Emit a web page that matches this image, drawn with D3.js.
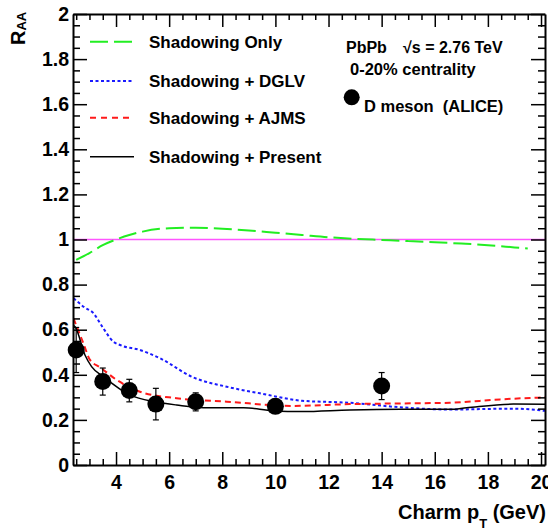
<!DOCTYPE html>
<meta charset="utf-8">
<style>
  body { margin: 0; background: white; }
  svg { display: block; font-family: "Liberation Sans", Arial, sans-serif; font-weight: bold; }
  .axis path, .axis line { stroke: black; }
  .axis path { stroke-width: 2; }
  .axis line { stroke-width: 1.5; }
  .axis text { font-family: "Liberation Sans", Arial, sans-serif; font-weight: bold; font-size: 19.5px; fill: black; }
</style>
<body>
<div id="chart"></div>
<script src="https://d3js.org/d3.v7.min.js"></script>
<script>

// tick values
const xMajor = [4, 6, 8, 10, 12, 14, 16, 18, 20];
const xMinor = [2.5, 3, 3.5, 4.5, 5, 5.5, 6.5, 7, 7.5, 8.5, 9, 9.5, 10.5, 11, 11.5, 12.5, 13, 13.5,
                14.5, 15, 15.5, 16.5, 17, 17.5, 18.5, 19, 19.5];
const yMajor = [0, 0.2, 0.4, 0.6, 0.8, 1, 1.2, 1.4, 1.6, 1.8, 2];
const yMinor = d3.range(0.05, 2, 0.05).filter(v => Math.abs(v * 5 - Math.round(v * 5)) > 1e-6);

// D meson (ALICE) points
const dPt   = [2.5, 3.5, 4.5, 5.5, 7, 10, 14];
const dRaa  = [0.51, 0.37, 0.33, 0.27, 0.28, 0.26, 0.35];
const dErr  = [0.10, 0.06, 0.05, 0.07, 0.04, 0.015, 0.06];

// Shadowing only
const shPt  = [2.5, 3, 3.5, 4, 4.5, 5, 6, 7, 8, 9, 10, 11, 12, 13, 14, 15, 16, 17, 18, 19, 19.5];
const shRaa = [0.91, 0.94, 0.975, 1.0, 1.02, 1.035, 1.05, 1.052, 1.048, 1.04, 1.03, 1.02, 1.01, 1.003,
               0.998, 0.993, 0.988, 0.982, 0.975, 0.965, 0.96];

// Shadowing + DGLV
const dglvPt  = [2.4, 2.8, 3.15, 3.5, 3.9, 4.15, 4.9, 5.66, 6.9, 8.17, 9.42, 11.0, 12.8, 14.7, 16.6, 18.96, 20.15];
const dglvRaa = [0.74, 0.70, 0.673, 0.61, 0.547, 0.532, 0.51, 0.473, 0.389, 0.347, 0.318, 0.285, 0.276,
                 0.256, 0.246, 0.25, 0.24];

// Shadowing + AJMS
const ajmsPt  = [2.4, 2.77, 3.02, 3.4, 4.03, 4.9, 6.28, 8.17, 10.67, 12.8, 14.7, 16.57, 18.46, 20.15];
const ajmsRaa = [0.65, 0.54, 0.466, 0.433, 0.377, 0.325, 0.296, 0.281, 0.262, 0.27, 0.273, 0.276, 0.291, 0.30];

// Shadowing + Present
const presPt  = [2.4, 2.46, 2.83, 3.08, 3.52, 4.53, 5.5, 6.28, 7.29, 8.8, 9.92, 11.0, 12.8, 14.7, 16.57, 17.2, 18.96, 20.15];
const presRaa = [0.62, 0.613, 0.488, 0.436, 0.392, 0.31, 0.28, 0.266, 0.254, 0.254, 0.24, 0.237, 0.244,
                 0.247, 0.247, 0.254, 0.27, 0.269];

const legendNames = ["Shadowing Only", "Shadowing + DGLV", "Shadowing + AJMS", "Shadowing + Present"];

const W = 548, H = 530;
const fLeft = 73, fRight = 545, fTop = 14, fBottom = 465;

const svg = d3.select("#chart").append("svg")
    .attr("width", W)
    .attr("height", H);

const x = d3.scaleLinear().domain([2.38, 20.15]).range([fLeft, fRight]);
const y = d3.scaleLinear().domain([0, 2]).range([fBottom, fTop]);

// clip for curves
svg.append("clipPath").attr("id", "frame")
  .append("rect")
    .attr("x", fLeft).attr("y", fTop)
    .attr("width", fRight - fLeft).attr("height", fBottom - fTop);

// reference line at 1
svg.append("line")
    .attr("x1", fLeft).attr("x2", fRight)
    .attr("y1", y(1)).attr("y2", y(1))
    .attr("stroke", "#ff55ff")
    .attr("stroke-width", 1.6);

// curves
const series = [
  {pt: shPt,   raa: shRaa,   color: "#22ee22", dash: "18,6", w: 2},
  {pt: dglvPt, raa: dglvRaa, color: "#1a1aff", dash: "3,2.5", w: 2},
  {pt: ajmsPt, raa: ajmsRaa, color: "#ff1a1a", dash: "6,4", w: 2},
  {pt: presPt, raa: presRaa, color: "black",   dash: null,  w: 1.5}
];

const line = d3.line()
    .x(d => x(d[0]))
    .y(d => y(d[1]))
    .curve(d3.curveMonotoneX);

svg.append("g").attr("clip-path", "url(#frame)")
  .selectAll("path")
  .data(series)
  .join("path")
    .attr("d", s => line(s.pt.map((p, i) => [p, s.raa[i]])))
    .attr("fill", "none")
    .attr("stroke", s => s.color)
    .attr("stroke-width", s => s.w)
    .attr("stroke-dasharray", s => s.dash);

// data points with error bars
const pts = dPt.map((p, i) => ({pt: p, raa: dRaa[i], err: dErr[i]}));
const pg = svg.append("g");
pg.selectAll("line.err")
  .data(pts)
  .join("line")
    .attr("class", "err")
    .attr("x1", d => x(d.pt)).attr("x2", d => x(d.pt))
    .attr("y1", d => y(d.raa - d.err)).attr("y2", d => y(d.raa + d.err))
    .attr("stroke", "black").attr("stroke-width", 1.2);
["lo", "hi"].forEach(k => {
  pg.selectAll("line.cap" + k)
    .data(pts)
    .join("line")
      .attr("class", "cap" + k)
      .attr("x1", d => x(d.pt) - 3).attr("x2", d => x(d.pt) + 3)
      .attr("y1", d => y(k == "lo" ? d.raa - d.err : d.raa + d.err))
      .attr("y2", d => y(k == "lo" ? d.raa - d.err : d.raa + d.err))
      .attr("stroke", "black").attr("stroke-width", 1.2);
});
pg.selectAll("circle")
  .data(pts)
  .join("circle")
    .attr("cx", d => x(d.pt))
    .attr("cy", d => y(d.raa))
    .attr("r", 8.5)
    .attr("fill", "black");

// axes (ticks inside the frame)
svg.append("g").attr("class", "axis")
    .attr("transform", `translate(0,${fBottom})`)
    .call(d3.axisBottom(x).tickValues(xMajor).tickSizeInner(-13).tickSizeOuter(0).tickPadding(10));
svg.append("g").attr("class", "axis")
    .attr("transform", `translate(0,${fBottom})`)
    .call(d3.axisBottom(x).tickValues(xMinor).tickSize(-6).tickFormat(""))
    .select(".domain").remove();
svg.append("g").attr("class", "axis")
    .attr("transform", `translate(0,${fTop})`)
    .call(d3.axisTop(x).tickValues(xMajor).tickSizeInner(-13).tickSizeOuter(0).tickFormat(""));
svg.append("g").attr("class", "axis")
    .attr("transform", `translate(0,${fTop})`)
    .call(d3.axisTop(x).tickValues(xMinor).tickSize(-6).tickFormat(""))
    .select(".domain").remove();

svg.append("g").attr("class", "axis")
    .attr("transform", `translate(${fLeft},0)`)
    .call(d3.axisLeft(y).tickValues(yMajor).tickSizeInner(-14).tickSizeOuter(0).tickPadding(4)
      .tickFormat(d => +d.toFixed(1)));
svg.append("g").attr("class", "axis")
    .attr("transform", `translate(${fLeft},0)`)
    .call(d3.axisLeft(y).tickValues(yMinor).tickSize(-7).tickFormat(""))
    .select(".domain").remove();
svg.append("g").attr("class", "axis")
    .attr("transform", `translate(${fRight},0)`)
    .call(d3.axisRight(y).tickValues(yMajor).tickSizeInner(-14).tickSizeOuter(0).tickFormat(""));
svg.append("g").attr("class", "axis")
    .attr("transform", `translate(${fRight},0)`)
    .call(d3.axisRight(y).tickValues(yMinor).tickSize(-7).tickFormat(""))
    .select(".domain").remove();

// axis titles
const yt = svg.append("text")
    .attr("transform", "translate(25,45) rotate(-90)")
    .attr("font-size", 20);
yt.append("tspan").text("R");
yt.append("tspan").attr("font-size", 13).attr("dy", 1).text("AA");

const xt = svg.append("text")
    .attr("x", 546).attr("y", 519)
    .attr("text-anchor", "end")
    .attr("font-size", 20);
xt.append("tspan").text("Charm p");
xt.append("tspan").attr("font-size", 13).attr("dy", 9).text("T");
xt.append("tspan").attr("dy", -9).text(" (GeV)");

// legend
const legY = [41.7, 81, 117.7, 156.7];
const leg = svg.append("g").selectAll("g")
  .data(series)
  .join("g")
    .attr("transform", (s, i) => `translate(0,${legY[i]})`);
leg.append("line")
    .attr("x1", 90).attr("x2", 134)
    .attr("stroke", s => s.color)
    .attr("stroke-width", s => s.w)
    .attr("stroke-dasharray", (s, i) => i == 2 ? "6,5" : s.dash);
leg.append("text")
    .attr("x", 149).attr("y", 6)
    .attr("font-size", 17)
    .text((s, i) => legendNames[i]);

// annotation
svg.append("text").attr("x", 346).attr("y", 53).attr("font-size", 16).text("PbPb");
svg.append("text").attr("x", 403).attr("y", 53).attr("font-size", 16).text("√s = 2.76 TeV");
svg.append("text").attr("x", 350).attr("y", 75).attr("font-size", 16.5).text("0-20% centrality");
svg.append("circle").attr("cx", 351.7).attr("cy", 97.3).attr("r", 8).attr("fill", "black");
svg.append("text").attr("x", 364).attr("y", 112).attr("font-size", 16.5)
    .attr("xml:space", "preserve").style("white-space", "pre").text("D meson  (ALICE)");

</script>
</body>
